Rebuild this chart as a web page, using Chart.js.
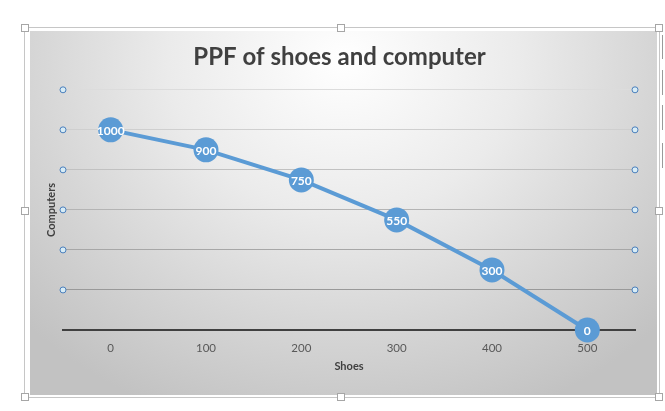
<!DOCTYPE html>
<html>
<head>
<meta charset="utf-8">
<script src="https://cdn.jsdelivr.net/npm/chart.js@4"></script>
<style>
  body { margin: 0; background: #ffffff; width: 665px; height: 411px; position: relative; overflow: hidden; }
  #frame { position: absolute; left: 24px; top: 27px; width: 634px; height: 369px; border: 1px solid #c6c6c6; }
  #plot {
    position: absolute; left: 30px; top: 31px; width: 627px; height: 364px;
    background: radial-gradient(ellipse 70% 105% at 50% 8%, #ffffff 0%, #ebebeb 40%, #d6d6d6 70%, #c2c2c2 100%);
  }
  .handle { position: absolute; width: 6px; height: 6px; background: #fff; border: 1px solid #a6a6a6; }
  .side { position: absolute; left: 662px; width: 4px; border-left: 1px solid #9a9a9a; }
</style>
</head>
<body>
<div id="frame"></div>
<div id="plot"><canvas id="ppf"></canvas></div>
<div class="handle" style="left:21px;top:24px"></div>
<div class="handle" style="left:337px;top:24px"></div>
<div class="handle" style="left:655px;top:24px"></div>
<div class="handle" style="left:21px;top:207px"></div>
<div class="handle" style="left:655px;top:207px"></div>
<div class="handle" style="left:21px;top:393px"></div>
<div class="handle" style="left:337px;top:393px"></div>
<div class="handle" style="left:655px;top:393px"></div>
<div class="side" style="top:35px;height:24px"></div>
<div class="side" style="top:70px;height:25px"></div>
<div class="side" style="top:105px;height:25px"></div>
<div class="side" style="top:143px;height:25px"></div>
<script>
const shoes = ["0", "100", "200", "300", "400", "500"];
const computers = [1000, 900, 750, 550, 300, 0];
const gridValues = [200, 400, 600, 800, 1000, 1200];

const blue = "#5b9bd5";

// small circles at both ends of every gridline
const gridHandles = {
  id: "gridHandles",
  afterDraw(chart) {
    const ctx = chart.ctx;
    const y = chart.scales.y;
    const area = chart.chartArea;
    ctx.save();
    ctx.lineWidth = 1;
    ctx.strokeStyle = "#4a7ebb";
    ctx.fillStyle = "#d7ecf6";
    gridValues.forEach((v) => {
      const py = y.getPixelForValue(v);
      [area.left, area.right].forEach((px) => {
        ctx.beginPath();
        ctx.arc(px, py, 3, 0, Math.PI * 2);
        ctx.fill();
        ctx.stroke();
      });
    });
    ctx.restore();
  }
};

// value labels inside the markers
const pointLabels = {
  id: "pointLabels",
  afterDatasetsDraw(chart) {
    const ctx = chart.ctx;
    const meta = chart.getDatasetMeta(0);
    ctx.save();
    ctx.fillStyle = "#ffffff";
    ctx.font = "bold 12px Lato";
    ctx.textAlign = "center";
    ctx.textBaseline = "middle";
    meta.data.forEach((pt, i) => {
      ctx.fillText(String(computers[i]), pt.x, pt.y + 1);
    });
    ctx.restore();
  }
};

new Chart(document.getElementById("ppf"), {
  type: "line",
  data: {
    labels: shoes,
    datasets: [{
      data: computers,
      borderColor: blue,
      backgroundColor: blue,
      borderWidth: 4,
      pointRadius: 12.5,
      pointHoverRadius: 12.5,
      pointBackgroundColor: blue,
      pointBorderWidth: 0,
      tension: 0,
      clip: false
    }]
  },
  options: {
    responsive: true,
    maintainAspectRatio: false,
    animation: false,
    layout: { padding: { left: 14, right: 22, top: 12, bottom: 0 } },
    plugins: {
      legend: { display: false },
      tooltip: { enabled: false },
      title: {
        display: true,
        text: "PPF of shoes and computer",
        color: "#404040",
        font: { family: "Lato", size: 24, weight: "bold" },
        padding: { top: 0, bottom: 18 }
      }
    },
    scales: {
      x: {
        offset: true,
        grid: { display: false, drawTicks: false },
        border: { display: true, color: "#404040", width: 2 },
        ticks: { color: "#595959", font: { family: "Lato", size: 11.5 }, padding: 11 },
        title: {
          display: true, text: "Shoes", color: "#404040",
          font: { family: "Lato", size: 11, weight: "bold" },
          padding: { top: 0, bottom: 22 }
        },
        afterFit(scale) { scale.height = 65; }
      },
      y: {
        min: 0,
        max: 1200,
        ticks: { display: false, stepSize: 200 },
        border: { display: false },
        grid: {
          drawTicks: false,
          color(c) {
            if (c.tick.value === 0) return "rgba(0,0,0,0)";
            const t = c.tick.value / 1200;
            const g = Math.round(140 + t * 80);
            return "rgb(" + g + "," + g + "," + g + ")";
          }
        },
        title: {
          display: true, text: "Computers", color: "#404040",
          font: { family: "Lato", size: 11, weight: "bold" },
          padding: { top: 1, bottom: 0 }
        },
        afterFit(scale) { scale.width = 19; }
      }
    }
  },
  plugins: [gridHandles, pointLabels]
});
</script>
</body>
</html>
